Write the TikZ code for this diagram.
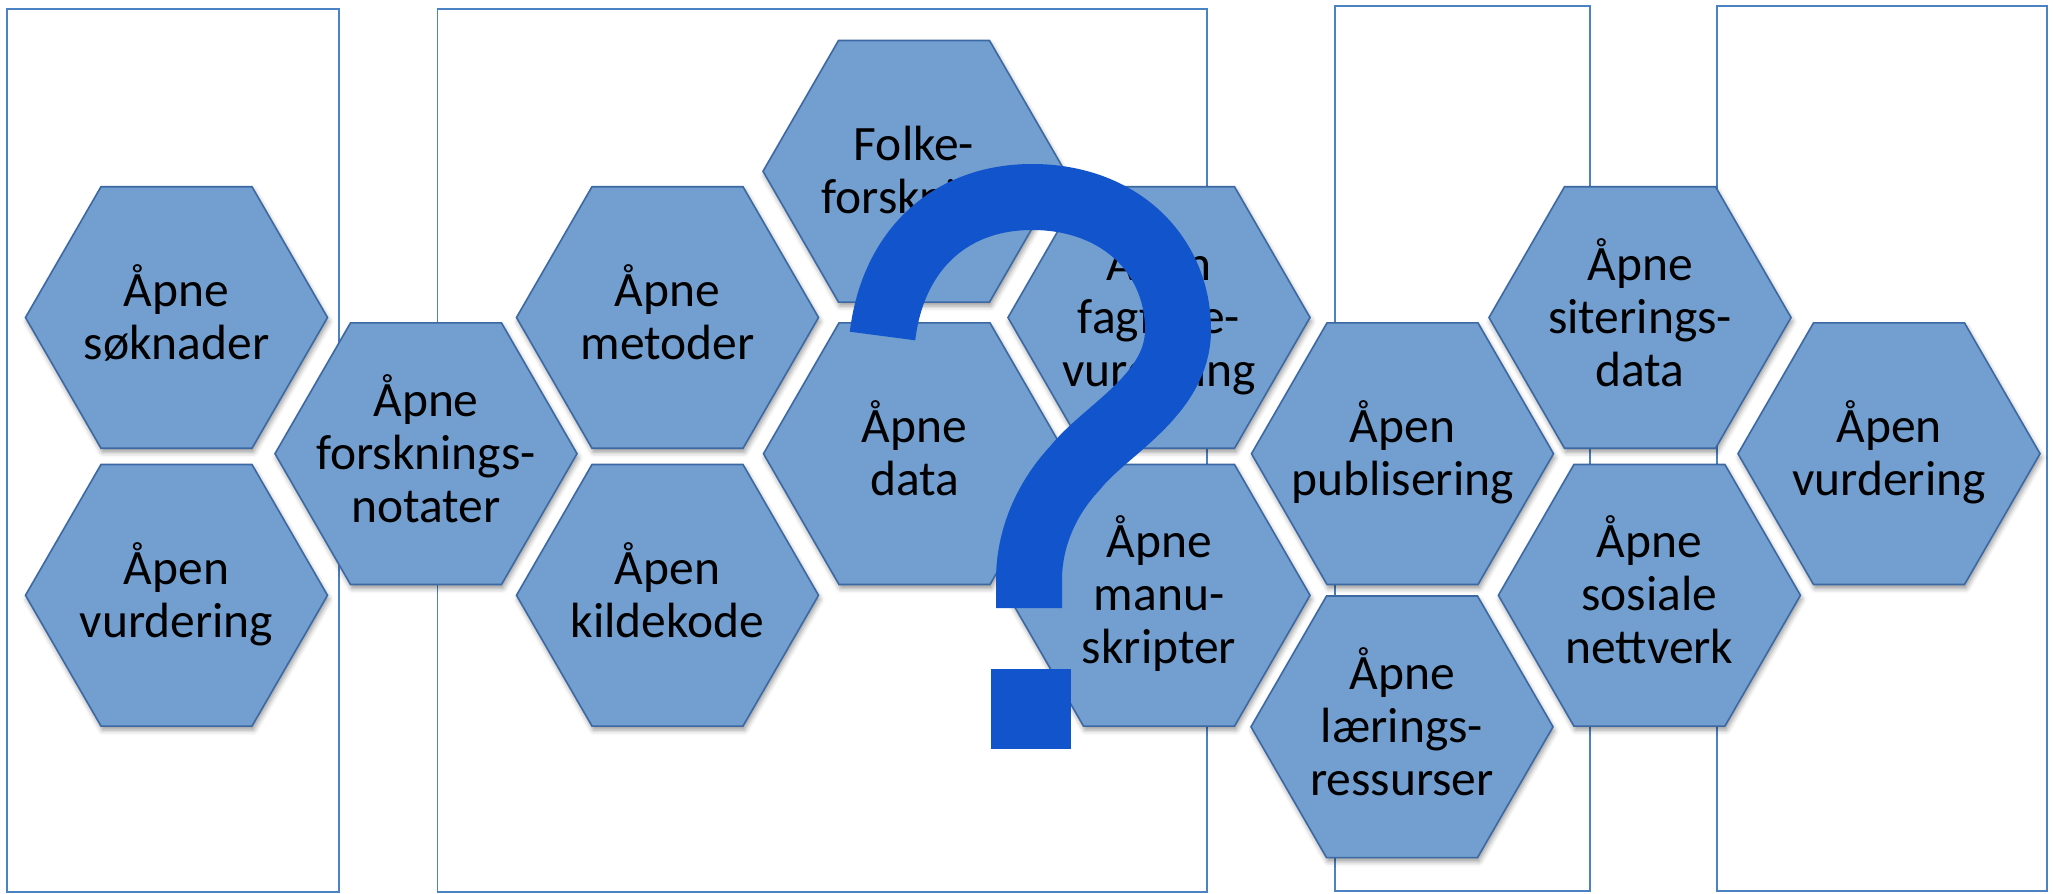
\documentclass[tikz,border=0pt]{standalone}
\usepackage{fontspec}
\setmainfont{Carlito}
\usetikzlibrary{shapes.geometric,shadows.blur}
\definecolor{hexfill}{RGB}{114,159,207}
\definecolor{hexline}{RGB}{60,104,163}
\definecolor{boxline}{RGB}{74,130,196}
\definecolor{qblue}{RGB}{17,84,204}
\newcommand{\topst}{\rule{0pt}{43pt}}
\newcommand{\botst}{\rule[-12pt]{0pt}{12pt}}
\tikzset{
  hexa/.style={regular polygon, regular polygon sides=6, minimum size=302pt,
    inner sep=0pt, outer sep=0pt, fill=hexfill, draw=hexline, line width=1.6pt,
    blur shadow={shadow xshift=1.5pt, shadow yshift=-4pt, shadow blur radius=5pt, shadow opacity=40}},
  hextext/.style={align=center, inner sep=0pt, font=\fontsize{49.5}{53}\selectfont, text=black},
  column/.style={draw=boxline, line width=1.6pt},
  qmark/.style={draw=qblue, line width=66pt, line cap=butt},
}
\newcommand{\hexnode}[4]{%
  \node[hexa] (#1) at (#2,#3) {};
  \node[hextext] (#1-t) at (#1.center) {\topst #4\botst};
}
\begin{document}
\begin{tikzpicture}[x=1pt,y=-1pt]
\useasboundingbox (0,0) rectangle (2053,894);
% columns
\draw[column] (6.7,8.7) rectangle (339,892);
\draw[column] (437.5,8.7) rectangle (1206.7,892);
\draw[column] (1334.8,6) rectangle (1589.7,890.7);
\draw[column] (1717,6) rectangle (2047,890.7);
% hexagons
\hexnode{soknader}{176.5}{317.5}{Åpne\\søknader}
\hexnode{vurdL}{176.5}{595.3}{Åpen\\vurdering}
\hexnode{notater}{426}{453.7}{Åpne\\forsknings-\\notater}
\hexnode{metoder}{667.5}{317.5}{Åpne\\metoder}
\hexnode{kildekode}{667.5}{595.3}{Åpen\\kildekode}
\hexnode{folke}{914}{171.3}{Folke-\\forskning}
\hexnode{data}{914.5}{453.7}{Åpne\\data}
\hexnode{fagfelle}{1159}{317.5}{Åpen\\fagfelle-\\vurdering}
\hexnode{manus}{1159}{595.3}{Åpne\\manu-\\skripter}
\hexnode{publ}{1402.5}{453.7}{Åpen\\publisering}
\hexnode{laering}{1402}{726.8}{Åpne\\lærings-\\ressurser}
\hexnode{siter}{1640}{317.5}{Åpne\\siterings-\\data}
\hexnode{sosiale}{1649.4}{595.3}{Åpne\\sosiale\\nettverk}
\hexnode{vurdR}{1889}{453.7}{Åpen\\vurdering}
% question mark
\draw[qmark] (882.5,336) .. controls (893,250) and (950,197) .. (1032,197)
  .. controls (1120,197) and (1178,255) .. (1178,330)
  .. controls (1178,395) and (1105,430) .. (1075,468)
  .. controls (1045,500) and (1029,540) .. (1029,580) -- (1029,608);
\fill[qblue] (991,669) rectangle (1071,749);
\end{tikzpicture}
\end{document}
